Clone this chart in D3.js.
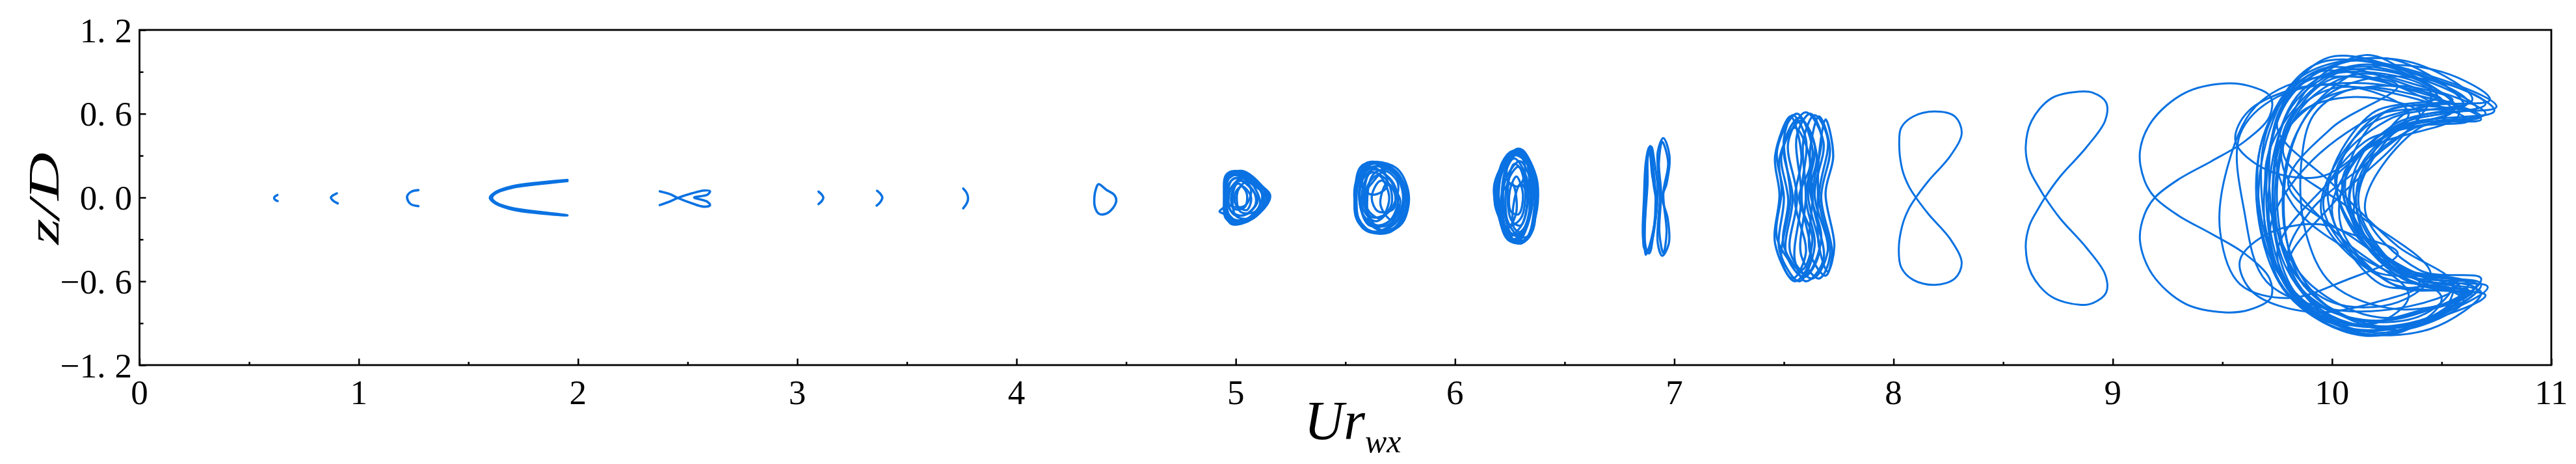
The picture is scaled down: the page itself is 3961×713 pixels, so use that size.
<!DOCTYPE html>
<html><head><meta charset="utf-8">
<script src="https://cdnjs.cloudflare.com/ajax/libs/d3/7.8.5/d3.min.js"></script>
<style>html,body{margin:0;padding:0;background:#fff}svg{display:block}</style>
</head><body><svg id="chart"></svg>
<script>
// ---------------- data ----------------
const xTickValues = [0,1,2,3,4,5,6,7,8,9,10,11];
const xTickLabels = ["0","1","2","3","4","5","6","7","8","9","10","11"];
const xMinorValues = [0.5,1.5,2.5,3.5,4.5,5.5,6.5,7.5,8.5,9.5,10.5];
const yTickValues = [-1.2,-0.6,0,0.6,1.2];
const yTickLabels = ["\u22121.2","\u22120.6","0.0","0.6","1.2"];
const yMinorValues = [-0.9,-0.3,0.3,0.9];

// Each orbit: list of traced loops, each loop a list of [Ur, z/D] points
const orbitUr062 = [[[0.629,0.018],[0.617,0.006],[0.614,-0.006],[0.62,-0.018],[0.63,-0.025]]];
const orbitUr088 = [[[0.900,0.030],[0.882,0.015],[0.873,0.000],[0.885,-0.025],[0.904,-0.042]]];
const orbitUr125 = [[[1.272,0.053],[1.240,0.042],[1.221,0.010],[1.225,-0.025],[1.240,-0.050],[1.272,-0.062]]];
const orbitUr180 = [[[1.952,0.126],[1.830,0.108],[1.700,0.080],[1.620,0.035],[1.598,-0.002],[1.620,-0.040],[1.700,-0.086],[1.830,-0.114],[1.952,-0.128],
                     [1.830,-0.104],[1.700,-0.076],[1.625,-0.035],[1.608,-0.002],[1.625,0.030],[1.700,0.070],[1.830,0.098],[1.952,0.118]]];
const orbitUr250 = [[[2.373,-0.054],[2.420,-0.028],[2.457,-0.002],[2.520,0.030],[2.575,0.050],[2.602,0.045],[2.590,0.020],[2.530,0.000],
                     [2.590,-0.030],[2.602,-0.055],[2.575,-0.066],[2.520,-0.042],[2.457,-0.004],[2.420,0.024],[2.373,0.044]]];
const orbitUr311 = [[[3.097,0.042],[3.112,0.020],[3.119,0.000],[3.112,-0.025],[3.097,-0.047]]];
const orbitUr338 = [[[3.364,0.048],[3.380,0.025],[3.388,0.000],[3.380,-0.030],[3.362,-0.058]]];
const orbitUr377 = [[[3.757,0.064],[3.772,0.035],[3.779,0.000],[3.775,-0.035],[3.757,-0.077]]];
const orbitUr440 = [[[4.374,0.095],[4.410,0.055],[4.445,0.020],[4.455,-0.020],[4.440,-0.075],[4.405,-0.118],[4.375,-0.115],[4.358,-0.070],[4.355,0.000],[4.362,0.060]]];
const orbitUr505 = [
  [[5.000,0.190],[5.080,0.120],[5.157,0.015],[5.110,-0.110],[5.010,-0.190],[4.955,-0.150],[4.947,0.000],[4.955,0.160]],
  [[4.990,0.180],[5.070,0.100],[5.140,0.000],[5.100,-0.120],[5.020,-0.180],[4.960,-0.100],[4.950,0.050],[4.960,0.150]],
  [[5.020,0.170],[5.100,0.080],[5.130,-0.020],[5.080,-0.140],[4.990,-0.170],[4.950,-0.050],[4.960,0.120]],
  [[5.000,0.140],[5.060,0.080],[5.100,-0.020],[5.050,-0.120],[4.990,-0.120],[4.960,0.000],[4.970,0.100]],
  [[5.030,0.190],[5.110,0.100],[5.150,0.000],[5.080,-0.150],[4.980,-0.190],[4.950,-0.080],[4.960,0.100],[4.980,0.170]],
  [[5.010,0.100],[5.050,0.030],[5.040,-0.070],[4.990,-0.080],[4.980,0.020]],
  [[4.990,0.160],[5.080,0.100],[5.130,0.000],[5.090,-0.130],[4.990,-0.180],[4.950,-0.120],[4.926,-0.100],[4.950,-0.060],[4.955,0.100]],
  [[5.040,0.150],[5.090,0.060],[5.110,-0.050],[5.040,-0.160],[4.975,-0.140],[4.965,0.030]],
  [[5.015,0.185],[5.095,0.110],[5.145,0.020],[5.095,-0.125],[5.000,-0.185],[4.952,-0.110],[4.952,0.060],[4.970,0.160]],
  [[4.980,0.170],[5.050,0.130],[5.120,0.040],[5.120,-0.060],[5.050,-0.160],[4.970,-0.170],[4.953,-0.030],[4.958,0.120]],
  [[5.020,0.120],[5.080,0.050],[5.090,-0.050],[5.030,-0.130],[4.975,-0.090],[4.975,0.050]],
  [[5.000,0.175],[5.060,0.140],[5.130,0.050],[5.140,-0.040],[5.070,-0.140],[4.995,-0.175],[4.960,-0.130],[4.955,-0.020],[4.965,0.130]],
  [[5.035,0.165],[5.115,0.060],[5.120,-0.070],[5.060,-0.150],[5.000,-0.130],[4.990,0.050]],
  [[5.030,0.080],[5.070,0.000],[5.050,-0.090],[5.000,-0.050],[5.000,0.040]],
  [[5.060,0.120],[5.120,0.020],[5.090,-0.100],[5.020,-0.100],[5.010,0.050]],
  [[4.980,0.120],[5.030,0.140],[5.070,0.050],[5.040,-0.060],[4.970,-0.050]]
];
const orbitUr565 = [
  [[5.640,0.255],[5.740,0.200],[5.790,0.000],[5.750,-0.200],[5.650,-0.250],[5.560,-0.180],[5.545,0.050],[5.570,0.220]],
  [[5.620,0.240],[5.720,0.180],[5.770,-0.050],[5.720,-0.220],[5.600,-0.240],[5.550,-0.100],[5.550,0.120]],
  [[5.660,0.250],[5.760,0.120],[5.780,-0.100],[5.700,-0.250],[5.580,-0.220],[5.550,0.000],[5.580,0.200]],
  [[5.630,0.200],[5.720,0.100],[5.730,-0.120],[5.650,-0.200],[5.580,-0.120],[5.570,0.100]],
  [[5.600,0.250],[5.700,0.220],[5.760,0.050],[5.740,-0.150],[5.620,-0.250],[5.550,-0.150],[5.560,0.150]],
  [[5.650,0.160],[5.700,0.000],[5.660,-0.150],[5.600,-0.080],[5.600,0.080]],
  [[5.680,0.240],[5.780,0.050],[5.760,-0.180],[5.660,-0.230],[5.590,-0.050],[5.610,0.180]],
  [[5.610,0.220],[5.690,0.150],[5.740,0.000],[5.700,-0.170],[5.610,-0.200],[5.565,-0.030],[5.575,0.150]],
  [[5.640,0.245],[5.730,0.190],[5.775,0.030],[5.730,-0.180],[5.640,-0.245],[5.570,-0.200],[5.550,0.000],[5.575,0.200]],
  [[5.670,0.220],[5.750,0.120],[5.760,-0.050],[5.690,-0.200],[5.600,-0.180],[5.565,0.020],[5.600,0.200]],
  [[5.620,0.180],[5.690,0.120],[5.710,-0.050],[5.640,-0.170],[5.580,-0.080],[5.585,0.100]],
  [[5.700,0.200],[5.770,0.080],[5.770,-0.120],[5.700,-0.240],[5.620,-0.200],[5.600,0.000],[5.630,0.170]],
  [[5.660,0.120],[5.720,0.050],[5.720,-0.080],[5.650,-0.100],[5.620,0.000]],
  [[5.600,0.230],[5.680,0.240],[5.740,0.150],[5.770,-0.020],[5.720,-0.190],[5.630,-0.250],[5.560,-0.150],[5.555,0.080]],
  [[5.620,0.100],[5.680,0.190],[5.740,0.100],[5.700,-0.100],[5.620,-0.140],[5.580,0.000]],
  [[5.690,0.100],[5.750,-0.020],[5.710,-0.160],[5.660,-0.050]],
  [[5.590,0.180],[5.660,0.220],[5.690,0.080],[5.630,0.020],[5.580,0.060]]
];
const orbitUr628 = [
  [[6.290,0.350],[6.370,0.150],[6.365,-0.150],[6.300,-0.330],[6.220,-0.200],[6.180,0.100]],
  [[6.280,0.320],[6.350,0.200],[6.360,-0.100],[6.320,-0.300],[6.240,-0.280],[6.190,0.050]],
  [[6.300,0.340],[6.360,0.050],[6.350,-0.250],[6.280,-0.320],[6.200,-0.100],[6.210,0.220]],
  [[6.260,0.300],[6.330,0.250],[6.370,-0.050],[6.330,-0.280],[6.250,-0.250],[6.180,-0.020]],
  [[6.310,0.330],[6.340,0.100],[6.330,-0.200],[6.270,-0.310],[6.210,-0.150],[6.200,0.150]],
  [[6.270,0.280],[6.330,0.120],[6.310,-0.180],[6.260,-0.260],[6.220,-0.050],[6.230,0.180]],
  [[6.290,0.220],[6.320,0.050],[6.300,-0.150],[6.250,-0.200],[6.230,0.000],[6.250,0.150]],
  [[6.320,0.300],[6.370,0.000],[6.340,-0.280],[6.290,-0.330],[6.230,-0.250],[6.200,0.050],[6.240,0.280]],
  [[6.285,0.340],[6.345,0.250],[6.350,0.000],[6.315,-0.240],[6.255,-0.300],[6.215,-0.080],[6.230,0.200]],
  [[6.300,0.345],[6.360,0.180],[6.368,-0.060],[6.330,-0.290],[6.270,-0.325],[6.210,-0.180],[6.185,0.060],[6.230,0.260]],
  [[6.275,0.310],[6.335,0.220],[6.345,-0.020],[6.310,-0.230],[6.250,-0.270],[6.200,-0.060],[6.215,0.180]],
  [[6.295,0.260],[6.345,0.120],[6.340,-0.120],[6.290,-0.270],[6.235,-0.150],[6.225,0.100]],
  [[6.310,0.310],[6.362,0.100],[6.360,-0.180],[6.305,-0.320],[6.240,-0.300],[6.195,-0.050],[6.205,0.160],[6.255,0.320]],
  [[6.280,0.150],[6.310,0.020],[6.290,-0.120],[6.255,-0.100],[6.250,0.050]],
  [[6.265,0.335],[6.320,0.300],[6.355,0.100],[6.340,-0.150],[6.290,-0.310],[6.225,-0.230],[6.190,0.020],[6.215,0.250]],
  [[6.270,0.240],[6.310,0.180],[6.330,-0.020],[6.300,-0.200],[6.260,-0.170],[6.240,0.050]],
  [[6.300,0.100],[6.340,-0.050],[6.310,-0.250],[6.270,-0.220],[6.270,-0.020]],
  [[6.250,0.280],[6.290,0.320],[6.320,0.200],[6.290,0.080],[6.240,0.120]],
  [[6.220,0.050],[6.260,0.100],[6.280,-0.100],[6.240,-0.220],[6.210,-0.120]]
];
const orbitUr692 = [
  [[6.950,0.426],[6.978,0.300],[6.965,0.100],[6.945,0.000],[6.970,-0.150],[6.975,-0.330],[6.945,-0.417],[6.925,-0.330],[6.930,-0.100],[6.935,0.000],[6.928,0.150],[6.925,0.330]],
  [[6.890,0.370],[6.905,0.200],[6.915,0.000],[6.905,-0.250],[6.885,-0.400],[6.862,-0.360],[6.868,-0.100],[6.872,0.200]],
  [[6.885,0.360],[6.900,0.150],[6.920,0.010],[6.910,-0.200],[6.875,-0.395],[6.858,-0.300],[6.862,0.000],[6.870,0.250]],
  [[6.895,0.365],[6.910,0.250],[6.925,0.030],[6.895,-0.300],[6.870,-0.410],[6.866,-0.200],[6.878,0.100],[6.880,0.300]],
  [[6.945,0.400],[6.972,0.250],[6.950,0.030],[6.965,-0.250],[6.950,-0.400],[6.932,-0.250],[6.940,0.030],[6.930,0.250]],
  [[6.888,0.355],[6.905,0.100],[6.918,-0.050],[6.900,-0.300],[6.878,-0.390],[6.862,-0.250],[6.870,0.050],[6.876,0.300]]
];
const orbitUr760 = [
  [[7.560,0.600],[7.630,0.350],[7.600,0.000],[7.640,-0.350],[7.570,-0.600],[7.480,-0.380],[7.500,0.000],[7.470,0.350]],
  [[7.600,0.610],[7.680,0.400],[7.640,0.020],[7.700,-0.380],[7.630,-0.580],[7.530,-0.400],[7.560,0.000],[7.520,0.400]],
  [[7.660,0.580],[7.710,0.350],[7.670,0.000],[7.720,-0.400],[7.690,-0.560],[7.620,-0.400],[7.630,0.000],[7.620,0.350]],
  [[7.530,0.580],[7.580,0.300],[7.550,-0.020],[7.600,-0.400],[7.540,-0.580],[7.460,-0.330],[7.480,0.020],[7.460,0.300]],
  [[7.580,0.550],[7.650,0.300],[7.620,0.050],[7.670,-0.300],[7.600,-0.550],[7.500,-0.350],[7.520,-0.020],[7.490,0.320]],
  [[7.620,0.600],[7.670,0.450],[7.630,0.000],[7.680,-0.450],[7.600,-0.600],[7.550,-0.450],[7.580,0.000],[7.560,0.450]],
  [[7.550,0.500],[7.620,0.250],[7.570,0.000],[7.630,-0.300],[7.580,-0.520],[7.470,-0.300],[7.490,0.050],[7.480,0.280]],
  [[7.690,0.560],[7.725,0.300],[7.690,0.030],[7.730,-0.350],[7.700,-0.530],[7.660,-0.350],[7.655,0.000],[7.660,0.300]],
  [[7.540,0.590],[7.600,0.420],[7.580,0.000],[7.620,-0.450],[7.550,-0.600],[7.490,-0.450],[7.530,0.000],[7.500,0.420]],
  [[7.570,0.570],[7.640,0.380],[7.610,0.020],[7.660,-0.400],[7.590,-0.570],[7.510,-0.400],[7.540,0.000],[7.500,0.380]],
  [[7.640,0.590],[7.700,0.420],[7.660,0.000],[7.710,-0.420],[7.660,-0.580],[7.580,-0.420],[7.600,0.000],[7.590,0.420]]
];
const orbitUr815 = [[[8.102,0.000],[8.160,-0.120],[8.260,-0.300],[8.311,-0.469],[8.280,-0.580],[8.188,-0.626],[8.090,-0.590],[8.035,-0.500],[8.024,-0.371],[8.040,-0.200],[8.070,-0.080],
                      [8.102,0.000],[8.160,0.120],[8.260,0.300],[8.311,0.460],[8.280,0.580],[8.188,0.616],[8.090,0.580],[8.035,0.500],[8.026,0.395],[8.040,0.200],[8.070,0.080]]];
const orbitUr880 = [[[8.691,0.000],[8.760,-0.150],[8.880,-0.360],[8.965,-0.550],[8.970,-0.680],[8.910,-0.755],[8.848,-0.768],[8.720,-0.710],[8.630,-0.550],[8.603,-0.356],[8.620,-0.200],[8.660,-0.080],
                      [8.691,0.000],[8.760,0.150],[8.880,0.360],[8.965,0.550],[8.970,0.680],[8.910,0.750],[8.848,0.758],[8.720,0.710],[8.630,0.550],[8.603,0.363],[8.620,0.200],[8.660,0.080]]];
const orbitUr940 = [[[9.192,0.000],[9.300,-0.130],[9.450,-0.260],[9.600,-0.400],[9.715,-0.580],[9.720,-0.720],[9.620,-0.805],[9.510,-0.822],[9.330,-0.760],[9.180,-0.550],[9.124,-0.307],[9.145,-0.120],
                      [9.192,0.000],[9.300,0.130],[9.450,0.260],[9.600,0.400],[9.715,0.580],[9.720,0.720],[9.620,0.800],[9.510,0.817],[9.330,0.750],[9.180,0.550],[9.124,0.330],[9.145,0.120]]];
const orbitUr1015 = [
  [[10.75,0.65],[10.45,0.87],[10.05,0.97],[9.80,0.70],[9.70,0.05],[9.80,-0.66],[10.10,-0.95],[10.45,-0.86],[10.71,-0.64],[10.35,-0.56],[10.12,-0.02],[10.35,0.55]],
  [[10.62,0.68],[10.35,0.90],[9.98,1.00],[9.76,0.62],[9.72,-0.05],[9.85,-0.72],[10.20,-0.97],[10.50,-0.82],[10.66,-0.66],[10.30,-0.50],[10.05,0.05],[10.28,0.52]],
  [[10.55,0.62],[10.28,0.84],[9.95,0.92],[9.72,0.55],[9.68,0.00],[9.78,-0.58],[10.05,-0.90],[10.40,-0.88],[10.60,-0.70],[10.25,-0.60],[10.00,-0.10],[10.22,0.45]],
  [[10.70,0.60],[10.40,0.80],[10.10,0.88],[9.85,0.62],[9.75,0.10],[9.82,-0.55],[10.00,-0.85],[10.35,-0.92],[10.62,-0.62],[10.28,-0.48],[10.08,0.00],[10.30,0.48]],
  [[10.48,0.72],[10.25,0.94],[9.92,0.95],[9.70,0.50],[9.66,-0.10],[9.80,-0.70],[10.15,-0.99],[10.55,-0.78],[10.58,-0.63],[10.22,-0.62],[9.98,0.02],[10.18,0.60]],
  [[10.68,0.56],[10.38,0.76],[10.00,0.85],[9.78,0.45],[9.74,-0.15],[9.90,-0.68],[10.25,-0.93],[10.52,-0.80],[10.68,-0.58],[10.40,-0.52],[10.15,-0.08],[10.40,0.50]],
  [[10.60,0.66],[10.30,0.98],[10.02,0.95],[9.80,0.72],[9.70,0.20],[9.72,-0.40],[9.95,-0.88],[10.30,-0.97],[10.50,-0.72],[10.20,-0.42],[10.02,0.10],[10.20,0.58]],
  [[10.72,0.70],[10.50,0.90],[10.15,0.92],[9.88,0.58],[9.78,0.00],[9.86,-0.60],[10.12,-0.88],[10.42,-0.80],[10.64,-0.68],[10.32,-0.58],[10.10,-0.15],[10.33,0.60]],
  [[10.52,0.58],[10.20,0.85],[9.90,0.88],[9.68,0.40],[9.70,-0.30],[9.88,-0.80],[10.20,-0.92],[10.48,-0.86],[10.55,-0.60],[10.18,-0.52],[9.96,-0.05],[10.15,0.40]],
  [[10.66,0.64],[10.42,0.84],[10.08,0.93],[9.82,0.66],[9.73,0.12],[9.79,-0.50],[10.05,-0.92],[10.38,-0.90],[10.70,-0.70],[10.36,-0.60],[10.06,0.05],[10.25,0.62]],
  [[10.45,0.75],[10.15,0.90],[9.85,0.80],[9.75,0.50],[10.00,0.10],[10.30,-0.35],[10.55,-0.62],[10.40,-0.85],[10.05,-0.85],[9.80,-0.50],[10.00,-0.05],[10.30,0.40]],
  [[10.62,0.55],[10.35,0.72],[10.00,0.78],[9.80,0.55],[9.78,0.20],[10.05,-0.30],[10.35,-0.70],[10.20,-0.90],[9.90,-0.80],[9.75,-0.40],[9.95,0.05],[10.30,0.48]],
  [[10.50,0.70],[10.10,0.82],[9.75,0.72],[9.58,0.45],[9.60,-0.10],[9.70,-0.60],[10.00,-0.80],[10.35,-0.78],[10.55,-0.66],[10.20,-0.55],[9.95,-0.10],[10.15,0.50]],
  [[10.30,0.80],[9.90,0.85],[9.65,0.65],[9.52,0.20],[9.49,-0.25],[9.58,-0.62],[9.80,-0.72],[10.05,-0.60],[10.30,-0.40],[10.00,-0.20],[9.80,0.10],[10.00,0.50]],
  [[10.58,0.60],[10.32,0.92],[10.15,1.02],[9.90,0.80],[9.76,0.30],[9.76,-0.30],[9.92,-0.75],[10.25,-0.88],[10.62,-0.66],[10.30,-0.64],[10.04,-0.20],[10.12,0.30]],
  [[10.74,0.62],[10.55,0.80],[10.20,0.86],[9.95,0.70],[9.80,0.30],[9.80,-0.35],[9.98,-0.78],[10.30,-0.95],[10.60,-0.74],[10.45,-0.60],[10.20,-0.35],[10.10,0.10],[10.30,0.50]],
  [[10.70,0.67],[10.48,0.84],[10.12,0.95],[9.86,0.76],[9.74,0.35],[9.72,-0.25],[9.84,-0.70],[10.18,-0.93],[10.50,-0.84],[10.68,-0.62],[10.40,-0.55],[10.15,-0.30],[10.05,0.15],[10.30,0.52]],
  [[10.56,0.64],[10.36,0.86],[10.04,0.90],[9.82,0.62],[9.70,0.25],[9.74,-0.20],[9.90,-0.62],[10.22,-0.86],[10.58,-0.72],[10.66,-0.62],[10.30,-0.54],[10.08,-0.10],[10.18,0.40]],
  [[10.64,0.70],[10.40,0.95],[10.10,0.99],[9.84,0.84],[9.70,0.40],[9.67,-0.15],[9.78,-0.60],[10.08,-0.95],[10.45,-0.94],[10.68,-0.68],[10.38,-0.58],[10.10,-0.25],[10.02,0.20],[10.26,0.56]],
  [[10.40,0.60],[10.10,0.72],[9.85,0.60],[9.78,0.30],[10.10,-0.10],[10.45,-0.55],[10.30,-0.75],[10.00,-0.75],[9.80,-0.45],[9.90,-0.10],[10.20,0.30]],
  [[10.55,0.70],[10.30,0.80],[9.95,0.70],[9.75,0.35],[9.82,-0.05],[10.10,-0.40],[10.40,-0.62],[10.62,-0.70],[10.40,-0.82],[10.00,-0.90],[9.76,-0.60],[9.72,-0.20],[9.90,0.25],[10.25,0.62]],
  [[10.68,0.58],[10.42,0.72],[10.10,0.78],[9.92,0.60],[9.86,0.25],[9.88,-0.25],[10.00,-0.62],[10.30,-0.80],[10.62,-0.70],[10.50,-0.60],[10.25,-0.48],[10.12,-0.15],[10.14,0.20],[10.38,0.50]],
  [[10.20,0.75],[9.90,0.80],[9.62,0.62],[9.56,0.40],[9.70,0.20],[9.95,0.15],[10.15,0.35],[10.35,0.60]],
  [[10.20,-0.75],[9.90,-0.82],[9.64,-0.68],[9.58,-0.45],[9.72,-0.25],[9.98,-0.20],[10.18,-0.38],[10.40,-0.62]]
];

const orbits = [orbitUr062, orbitUr088, orbitUr125, orbitUr180, orbitUr250, orbitUr311, orbitUr338, orbitUr377,
                orbitUr440, orbitUr505, orbitUr565, orbitUr628, orbitUr692, orbitUr760, orbitUr815, orbitUr880, orbitUr940, orbitUr1015];
const openOrbits = [orbitUr062, orbitUr088, orbitUr125, orbitUr180, orbitUr250, orbitUr311, orbitUr338, orbitUr377];

// ---------------- layout ----------------
const W = 3961, H = 713;
const mLeft = 214.5, mRight = 3923, mTop = 46, mBottom = 561;
const blue = "#0A72E2";

const svg = d3.select("#chart").attr("width", W).attr("height", H);
svg.append("rect").attr("width", W).attr("height", H).attr("fill", "#fff");

const x = d3.scaleLinear().domain([0, 11]).range([mLeft, mRight]);
const y = d3.scaleLinear().domain([-1.2, 1.2]).range([mBottom, mTop]);

const clipId = "plotclip";
svg.append("defs").append("clipPath").attr("id", clipId)
  .append("rect").attr("x", mLeft).attr("y", mTop).attr("width", mRight - mLeft).attr("height", mBottom - mTop);

const lineClosed = d3.line().x(d => x(d[0])).y(d => y(d[1])).curve(d3.curveCatmullRomClosed.alpha(0.5));
const lineOpen = d3.line().x(d => x(d[0])).y(d => y(d[1])).curve(d3.curveCatmullRom.alpha(0.5));

const g = svg.append("g").attr("clip-path", `url(#${clipId})`);
orbits.forEach((orb, i) => {
  const isOpen = openOrbits.includes(orb);
  g.append("g").selectAll("path").data(orb).join("path")
    .attr("d", d => (isOpen ? lineOpen : lineClosed)(d))
    .attr("fill", "none")
    .attr("stroke", blue)
    .attr("stroke-width", i < 9 ? 3.6 : (i < 14 ? 3.4 : 3))
    .attr("stroke-linejoin", "round")
    .attr("stroke-linecap", "round");
});

// axes (inward ticks)
const axisColor = "#000";
const xAxisMajor = d3.axisBottom(x).tickValues(xTickValues).tickSize(-10).tickFormat("");
const xAxisMinor = d3.axisBottom(x).tickValues(xMinorValues).tickSize(-5).tickFormat("");
const yAxisMajor = d3.axisLeft(y).tickValues(yTickValues).tickSize(-10).tickFormat("");
const yAxisMinor = d3.axisLeft(y).tickValues(yMinorValues).tickSize(-6).tickFormat("");
[[xAxisMajor, `translate(0,${mBottom})`], [xAxisMinor, `translate(0,${mBottom})`],
 [yAxisMajor, `translate(${mLeft},0)`], [yAxisMinor, `translate(${mLeft},0)`]].forEach(([ax, tr]) => {
  const a = svg.append("g").attr("transform", tr).call(ax);
  a.select(".domain").remove();
  a.selectAll("line").attr("stroke", axisColor).attr("stroke-width", 2.5);
});

svg.append("rect").attr("x", mLeft).attr("y", mTop).attr("width", mRight - mLeft).attr("height", mBottom - mTop)
  .attr("fill", "none").attr("stroke", axisColor).attr("stroke-width", 2.8);

const tickFont = "'Liberation Serif','Times New Roman',serif";
// x tick labels
svg.append("g").selectAll("text").data(xTickValues).join("text")
  .attr("x", d => x(d)).attr("y", 621)
  .attr("text-anchor", "middle")
  .attr("font-family", tickFont).attr("font-size", 53).attr("fill", "#000")
  .text((d, i) => xTickLabels[i]);

// y tick labels (with the wide gap after the decimal point as in the figure)
const yl = svg.append("g").selectAll("text").data(yTickValues).join("text")
  .attr("x", 203).attr("y", d => y(d)).attr("dy", "0.35em")
  .attr("text-anchor", "end")
  .attr("font-family", tickFont).attr("font-size", 53).attr("fill", "#000");
yl.each(function(d, i) {
  const s = yTickLabels[i];
  const k = s.indexOf(".");
  const t = d3.select(this);
  t.append("tspan").text(s.slice(0, k + 1));
  t.append("tspan").attr("dx", 14).text(s.slice(k + 1));
});

// axis titles
const xt = svg.append("text")
  .attr("transform", `translate(2080,675)`)
  .attr("text-anchor", "middle")
  .attr("font-family", tickFont).attr("font-style", "italic").attr("font-size", 84).attr("fill", "#000");
xt.append("tspan").text("Ur");
xt.append("tspan").attr("font-size", 50).attr("dy", 20).text("wx");

svg.append("text")
  .attr("transform", `translate(90,305) rotate(-90) scale(1.5,1)`)
  .attr("text-anchor", "middle")
  .attr("font-family", tickFont).attr("font-style", "italic").attr("font-size", 68).attr("fill", "#000")
  .text("z/D");
</script></body></html>
